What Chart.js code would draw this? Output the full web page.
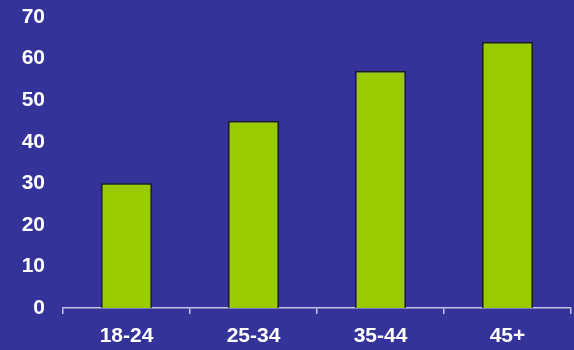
<!DOCTYPE html>
<html>
<head>
<meta charset="utf-8">
<script src="https://cdn.jsdelivr.net/npm/chart.js@4/dist/chart.umd.min.js"></script>
<style>
    html, body { margin: 0; padding: 0; background: #333399; }
    #wrap { width: 574px; height: 350px; }
</style>
</head>
<body>
<div id="wrap"><canvas id="ageChart"></canvas></div>
<script>
// Age bands and their values
const ageGroups = ['18-24', '25-34', '35-44', '45+'];
const ageValues = [30, 45, 57, 64];
const yTicks = [0, 10, 20, 30, 40, 50, 60, 70];

const bgColor = '#333399';
const barColor = '#99cc00';
const axisColor = '#c4c4e6';

// paint the slide-blue background behind the chart
const backgroundFill = {
    id: 'backgroundFill',
    beforeDraw(chart) {
        const c = chart.ctx;
        c.save();
        c.fillStyle = bgColor;
        c.fillRect(0, 0, chart.width, chart.height);
        c.restore();
    }
};

Chart.defaults.font.family = '"Liberation Sans", Arial, sans-serif';

new Chart(document.getElementById('ageChart'), {
    type: 'bar',
    data: {
        labels: ageGroups,
        datasets: [{
            data: ageValues,
            backgroundColor: barColor,
            borderColor: '#1a1a1a',
            borderWidth: 1.5,
            barPercentage: 0.4,
            categoryPercentage: 1.0
        }]
    },
    options: {
        responsive: true,
        maintainAspectRatio: false,
        animation: false,
        layout: { padding: { top: 17, right: 3, left: 0, bottom: 0 } },
        plugins: {
            legend: { display: false },
            tooltip: { enabled: false }
        },
        scales: {
            x: {
                grid: {
                    display: true,
                    drawOnChartArea: false,
                    drawTicks: true,
                    tickLength: 6,
                    color: axisColor,
                    lineWidth: 1.5
                },
                border: { display: true, color: axisColor, width: 1.5 },
                ticks: {
                    color: '#ffffff',
                    padding: 10,
                    font: { size: 21, weight: 'bold' }
                },
                afterFit(scale) { scale.height = 42; }
            },
            y: {
                min: 0,
                max: 70,
                afterBuildTicks(scale) {
                    scale.ticks = yTicks.map(v => ({ value: v }));
                },
                grid: { display: false },
                border: { display: false },
                ticks: {
                    color: '#ffffff',
                    padding: 10,
                    font: { size: 21, weight: 'bold' }
                },
                afterFit(scale) {
                    scale.width = 63;
                    scale.paddingTop = 0;
                    scale.paddingBottom = 0;
                }
            }
        }
    },
    plugins: [backgroundFill]
});
</script>
</body>
</html>
